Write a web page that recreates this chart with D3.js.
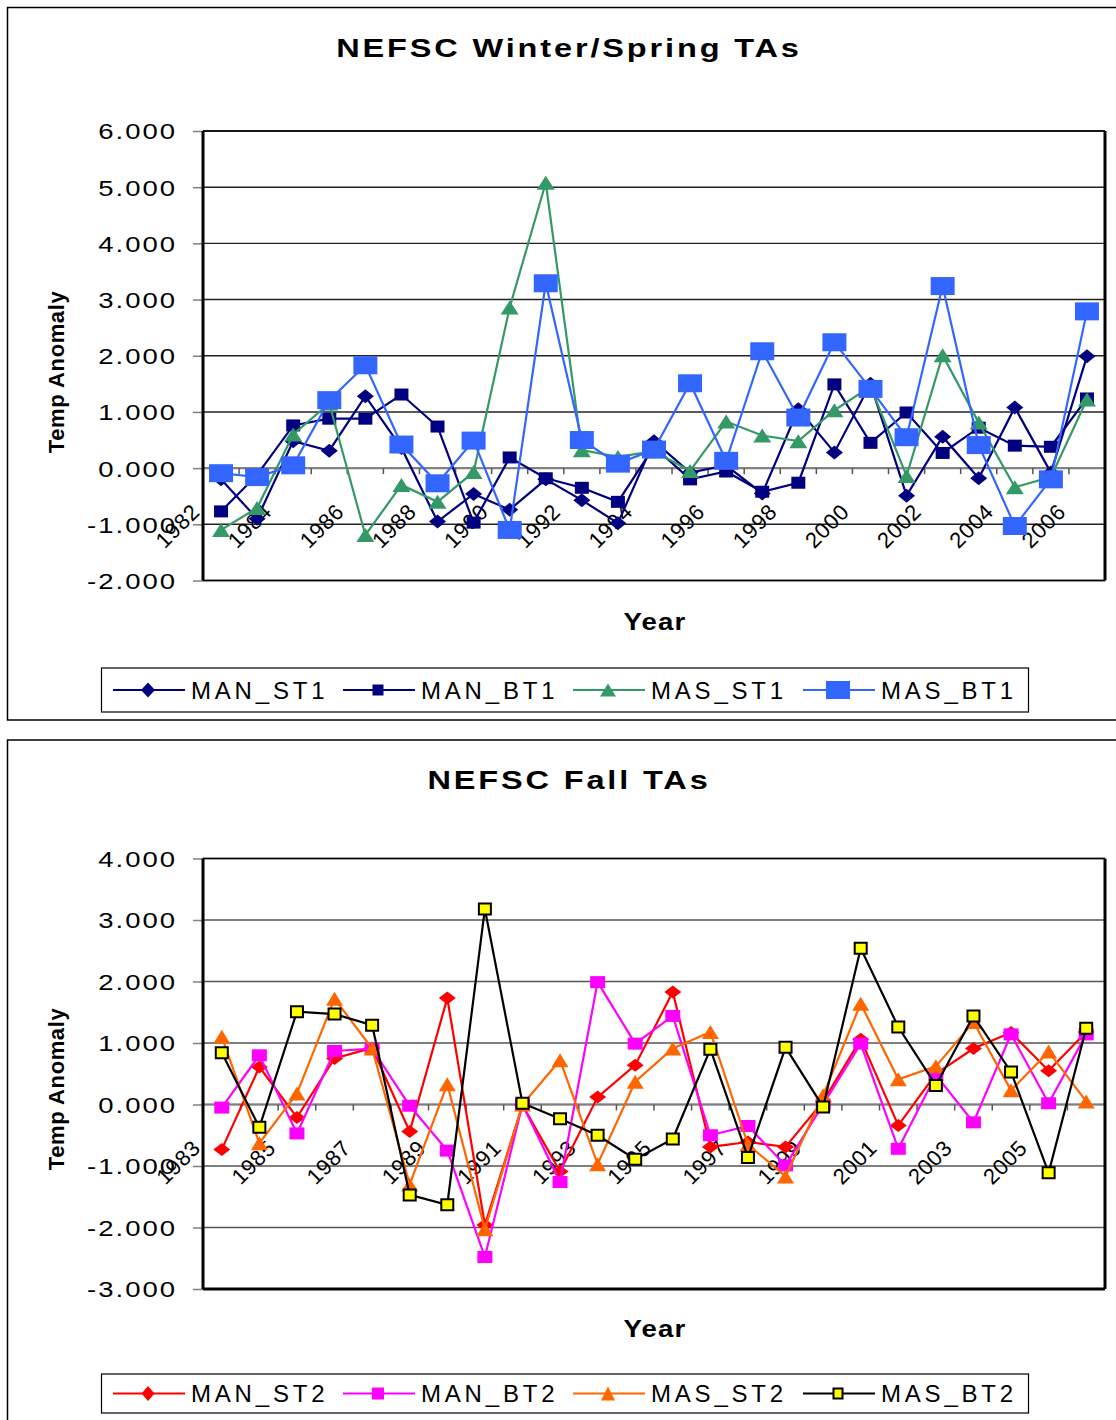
<!DOCTYPE html>
<html><head><meta charset="utf-8">
<script src="https://cdn.jsdelivr.net/npm/d3@7"></script>
<style>html,body{margin:0;padding:0;background:#fff;}svg{display:block;}</style>
</head><body>
<script>
// ---------- DATA ----------
const years1 = ["1982","1983","1984","1985","1986","1987","1988","1989","1990","1991","1992","1993","1994","1995","1996","1997","1998","1999","2000","2001","2002","2003","2004","2005","2006"];
const MAN_ST1 = [-0.20,-0.90,0.48,0.31,1.28,0.36,-0.95,-0.46,-0.74,-0.20,-0.57,-0.98,0.48,-0.08,0.05,-0.45,1.05,0.28,1.50,-0.49,0.56,-0.18,1.08,-0.08,1.99];
const MAN_BT1 = [-0.77,-0.12,0.76,0.88,0.88,1.31,0.74,-0.97,0.19,-0.18,-0.35,-0.60,0.38,-0.20,-0.06,-0.42,-0.26,1.49,0.45,0.99,0.27,0.72,0.40,0.38,1.24];
const MAS_ST1 = [-1.10,-0.71,0.60,1.15,-1.19,-0.30,-0.60,-0.07,2.86,5.08,0.32,0.20,0.30,-0.05,0.83,0.58,0.48,1.03,1.45,-0.14,2.01,0.81,-0.34,-0.16,1.22];
const MAS_BT1 = [-0.09,-0.16,0.05,1.21,1.83,0.42,-0.27,0.49,-1.10,3.29,0.50,0.08,0.33,1.51,0.13,2.08,0.90,2.24,1.41,0.55,3.24,0.41,-1.03,-0.20,2.79];
const yTicks1 = [6,5,4,3,2,1,0,-1,-2];

const years2 = ["1983","1984","1985","1986","1987","1988","1989","1990","1991","1992","1993","1994","1995","1996","1997","1998","1999","2000","2001","2002","2003","2004","2005","2006"];
const MAN_ST2 = [-0.73,0.61,-0.21,0.75,0.92,-0.44,1.73,-1.96,-0.01,-1.09,0.12,0.64,1.83,-0.69,-0.61,-0.69,0.05,1.06,-0.34,0.50,0.91,1.17,0.55,1.18];
const MAN_BT2 = [-0.05,0.80,-0.47,0.87,0.91,-0.02,-0.75,-2.48,0.00,-1.26,1.99,0.99,1.44,-0.50,-0.35,-0.99,0.00,0.99,-0.72,0.48,-0.29,1.14,0.02,1.14];
const MAS_ST2 = [1.10,-0.63,0.18,1.72,0.91,-1.30,0.33,-2.03,0.00,0.72,-0.97,0.37,0.91,1.18,-0.65,-1.17,0.15,1.64,0.41,0.62,1.34,0.23,0.86,0.05];
const MAS_BT2 = [0.84,-0.37,1.51,1.47,1.29,-1.47,-1.63,3.18,0.02,-0.23,-0.50,-0.89,-0.56,0.90,-0.86,0.93,-0.04,2.54,1.26,0.31,1.44,0.53,-1.11,1.24];
const yTicks2 = [4,3,2,1,0,-1,-2,-3];

const title1 = "NEFSC Winter/Spring TAs";
const title2 = "NEFSC Fall TAs";
const names1 = ["MAN_ST1","MAN_BT1","MAS_ST1","MAS_BT1"];
const names2 = ["MAN_ST2","MAN_BT2","MAS_ST2","MAS_BT2"];

// ---------- DRAW ----------
const FONT = "'Liberation Sans', Arial, sans-serif";
const svg = d3.select("body").append("svg").attr("width",1116).attr("height",1420);
const fmt = d3.formatLocale({decimal:".", thousands:",", grouping:[3], currency:["",""], minus:"-"}).format(".3f");

function markerPath(type,w,h){
  if(type==="diamond") return `M0,${-h/2}L${w/2},0L0,${h/2}L${-w/2},0Z`;
  if(type==="triangle") return `M0,${-h/2}L${w/2},${h/2}L${-w/2},${h/2}Z`;
  return `M${-w/2},${-h/2}H${w/2}V${h/2}H${-w/2}Z`;
}

function drawChart(o){
  const g = svg.append("g");
  g.append("rect").attr("x",7.5).attr("y",o.boxTop).attr("width",1120).attr("height",o.boxH)
    .attr("fill","#fff").attr("stroke","#000").attr("stroke-width",1.5);

  const x = d3.scalePoint().domain(o.years).range([o.x0,o.x1]).padding(0.5);
  const band = d3.scaleBand().domain(o.years).range([o.x0,o.x1]);
  const y = d3.scaleLinear().domain(o.yDomain).range([o.yBottom,o.yTop]);

  // gridlines
  g.selectAll("line.grid").data(o.yTicks).join("line")
    .attr("x1",o.x0).attr("x2",o.x1).attr("y1",d=>y(d)).attr("y2",d=>y(d))
    .attr("stroke",o.gridColor).attr("stroke-width",1.4);

  // y axis
  const ya = d3.axisLeft(y).tickValues(o.yTicks).tickFormat(fmt).tickSize(10).tickPadding(0);
  const yg = g.append("g").attr("transform",`translate(${o.x0},0)`).call(ya);
  yg.select(".domain").remove();
  yg.selectAll(".tick line").attr("stroke","#808080").attr("stroke-width",1.5);
  yg.selectAll(".tick text").attr("x",null).attr("dy","0.36em")
    .attr("transform","translate(-26,0) scale(1.25,1)")
    .attr("font-family",FONT).attr("font-size",22).attr("letter-spacing",1.6).attr("fill","#000");

  // zero axis with ticks at category boundaries
  const y0 = y(0);
  g.append("line").attr("x1",o.x0).attr("x2",o.x1).attr("y1",y0).attr("y2",y0)
    .attr("stroke","#808080").attr("stroke-width",2);
  g.selectAll("line.xt").data(o.years.slice(1)).join("line")
    .attr("x1",d=>band(d)).attr("x2",d=>band(d)).attr("y1",y0).attr("y2",y0+6)
    .attr("stroke","#555").attr("stroke-width",1.5);

  // plot frame
  g.append("line").attr("x1",o.x0).attr("x2",o.x1).attr("y1",o.yTop).attr("y2",o.yTop).attr("stroke","#000").attr("stroke-width",1.5);
  g.append("line").attr("x1",o.x0).attr("x2",o.x1).attr("y1",o.yBottom).attr("y2",o.yBottom).attr("stroke","#000").attr("stroke-width",o.bottomW);
  g.append("line").attr("x1",o.x0).attr("x2",o.x0).attr("y1",o.yTop).attr("y2",o.yBottom).attr("stroke","#000").attr("stroke-width",3);
  g.append("line").attr("x1",o.x1).attr("x2",o.x1).attr("y1",o.yTop).attr("y2",o.yBottom).attr("stroke","#000").attr("stroke-width",3);

  // category labels
  const labs = o.years.filter((d,i)=>i%2===0);
  g.selectAll("text.cat").data(labs).join("text")
    .attr("transform",d=>`translate(${x(d)-20},${y0+45}) rotate(-45)`)
    .attr("text-anchor","end").attr("font-family",FONT).attr("font-size",22).attr("letter-spacing",0.6)
    .attr("fill","#000").text(d=>d);

  // series
  o.series.forEach(s=>{
    const pts = o.years.map((yr,i)=>[x(yr),y(s.values[i])]);
    g.append("path").attr("d",d3.line()(pts)).attr("fill","none")
      .attr("stroke",s.line).attr("stroke-width",2.2).attr("stroke-linejoin","miter");
    g.selectAll(null).data(pts).join("path")
      .attr("transform",p=>`translate(${p[0]},${p[1]})`)
      .attr("d",markerPath(s.shape,s.w,s.h))
      .attr("fill",s.fill).attr("stroke",s.stroke||"none").attr("stroke-width",s.sw||0);
  });

  // titles
  g.append("text").attr("transform",`translate(569,${o.titleY}) scale(1.3,1)`).attr("text-anchor","middle")
    .attr("font-family",FONT).attr("font-weight","bold").attr("font-size",25).attr("letter-spacing",2.2)
    .text(o.title);
  g.append("text").attr("transform",`translate(655,${o.xTitleY}) scale(1.2,1)`).attr("text-anchor","middle")
    .attr("font-family",FONT).attr("font-weight","bold").attr("font-size",23).attr("letter-spacing",1)
    .text("Year");
  g.append("text").attr("transform",`translate(64,${o.yTitleC}) rotate(-90)`).attr("text-anchor","middle")
    .attr("font-family",FONT).attr("font-weight","bold").attr("font-size",22).attr("letter-spacing",0.6)
    .text("Temp Anomaly");

  // legend
  g.append("rect").attr("x",101.5).attr("y",o.legTop).attr("width",927).attr("height",o.legH)
    .attr("fill","#fff").attr("stroke","#000").attr("stroke-width",1.2);
  const lc = o.legTop + o.legH/2;
  const lx = [113,343,573,803];
  o.series.forEach((s,i)=>{
    g.append("line").attr("x1",lx[i]).attr("x2",lx[i]+72).attr("y1",lc).attr("y2",lc)
      .attr("stroke",s.line).attr("stroke-width",2.2);
    g.append("path").attr("transform",`translate(${lx[i]+35},${lc})`)
      .attr("d",markerPath(s.shape,s.lw||s.w,s.lh||s.h))
      .attr("fill",s.fill).attr("stroke",s.stroke||"none").attr("stroke-width",s.sw||0);
    g.append("text").attr("x",lx[i]+78).attr("y",lc).attr("dy","0.36em")
      .attr("font-family",FONT).attr("font-size",24).attr("letter-spacing",3.8).text(s.name);
  });
}

drawChart({
  boxTop:7.5, boxH:712.5, x0:203, x1:1105, yTop:131, yBottom:580.5, yDomain:[-2,6], yTicks:yTicks1,
  years:years1, gridColor:"#222", bottomW:1.5, title:title1, titleY:57, xTitleY:630, yTitleC:372,
  legTop:668, legH:44,
  series:[
    {name:names1[0], values:MAN_ST1, line:"#000080", fill:"#000080", shape:"diamond", w:17, h:14, lw:14, lh:15},
    {name:names1[1], values:MAN_BT1, line:"#000080", fill:"#000080", shape:"square", w:14, h:12, lw:11, lh:11},
    {name:names1[2], values:MAS_ST1, line:"#339966", fill:"#339966", shape:"triangle", w:18, h:14, lw:16, lh:13},
    {name:names1[3], values:MAS_BT1, line:"#3366FF", fill:"#3366FF", shape:"square", w:24, h:18}
  ]
});

drawChart({
  boxTop:740, boxH:700, x0:203, x1:1105, yTop:858.5, yBottom:1289, yDomain:[-3,4], yTicks:yTicks2,
  years:years2, gridColor:"#555", bottomW:3, title:title2, titleY:789, xTitleY:1337, yTitleC:1089,
  legTop:1374, legH:39,
  series:[
    {name:names2[0], values:MAN_ST2, line:"#FF0000", fill:"#FF0000", shape:"diamond", w:17, h:13, lw:13, lh:15},
    {name:names2[1], values:MAN_BT2, line:"#FF00FF", fill:"#FF00FF", shape:"square", w:15, h:12, lw:12, lh:12},
    {name:names2[2], values:MAS_ST2, line:"#FF6600", fill:"#FF6600", shape:"triangle", w:17, h:14, lw:14, lh:14},
    {name:names2[3], values:MAS_BT2, line:"#000000", fill:"#FFFF00", shape:"square", w:12, h:11, stroke:"#000", sw:2, lw:9, lh:10}
  ]
});
</script>
</body></html>
